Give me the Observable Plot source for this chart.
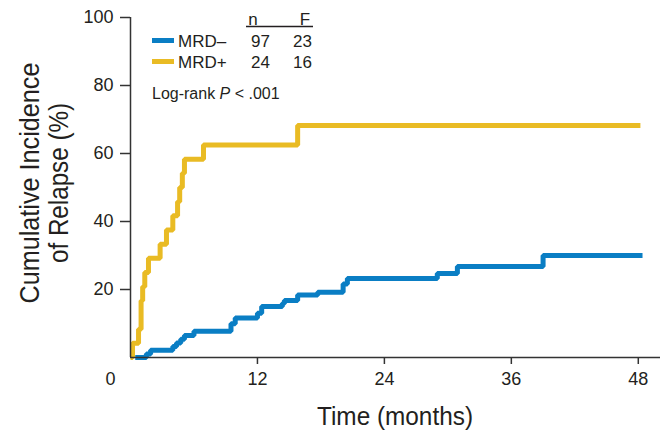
<!DOCTYPE html>
<html><head><meta charset="utf-8">
<script src="https://cdn.jsdelivr.net/npm/d3@7"></script>
<script src="https://cdn.jsdelivr.net/npm/@observablehq/plot@0.6"></script>
<style>
html,body{margin:0;padding:0;background:#fff;}
#chart{position:relative;width:663px;height:434px;overflow:hidden;}
</style></head><body><div id="chart"></div>
<script>
// ---- data ----
const groups = ["MRD–", "MRD+"];
const colors = ["#0a7ec4", "#e9bb24"];
const nCounts = [97, 24];
const fCounts = [23, 16];
const mrdNegTime = [0.45, 1.5, 1.9, 4.0, 4.35, 4.75, 5.1, 6.0, 9.5, 9.9, 12.0, 12.4, 14.35, 14.55, 15.8, 17.7, 20.1, 20.5, 29.0, 30.9, 39.0, 48.4];
const mrdNegCI   = [0,    1.0, 2.1, 3.2, 4.3,  5.4,  6.5, 7.7, 9.9, 11.6, 13.0, 15.0, 15.9, 16.8, 18.4, 19.2, 21.6, 23.2, 24.7, 26.8, 30.0, 30.0];
const mrdPosTime = [0, 0.19, 0.76, 1.0, 1.15, 1.35, 1.7, 2.8, 3.4, 4.0, 4.45, 4.65, 4.9, 5.1, 6.9, 15.8, 48.2];
const mrdPosCI   = [0, 4.2,  8.3,  16.7, 20.8, 25.0, 29.2, 33.3, 37.5, 41.7, 45.8, 50.0, 54.2, 58.3, 62.5, 68.2, 68.2];
const xTicks = [12, 24, 36, 48];
const xZeroTick = [0];
const yTicks = [20, 40, 60, 80, 100];
const xTitle = "Time (months)";
const yTitleLines = ["Cumulative Incidence", "of Relapse (%)"];
const legendHeaders = ["n", "F"];
const pText = ["Log-rank ", "P", " < .001"];

const rows = [
  ...mrdNegTime.map((t, i) => ({group: groups[0], t, v: mrdNegCI[i]})),
  ...mrdPosTime.map((t, i) => ({group: groups[1], t, v: mrdPosCI[i]}))
];

const ink = "#231f20";
const plot = Plot.plot({
  width: 663, height: 434,
  marginLeft: 130, marginRight: 3, marginTop: 17, marginBottom: 77,
  x: {domain: [0, 50.1]},
  y: {domain: [0, 100]},
  color: {domain: groups, range: colors},
  style: {fontFamily: "'Liberation Sans', Arial, sans-serif", fontSize: "18px", color: ink, background: "white"},
  marks: [
    Plot.line(rows, {x: "t", y: "v", stroke: "group", z: "group", strokeWidth: 5, curve: "step-after", strokeLinejoin: "miter", strokeLinecap: "butt"}),
    Plot.ruleX([0], {stroke: "#333", strokeWidth: 1.5}),
    Plot.ruleY([0], {stroke: "#333", strokeWidth: 1.5}),
    Plot.axisY(yTicks, {tickSize: 10, tickPadding: 7, label: null, stroke: "#333", strokeWidth: 1.5, fontSize: 18}),
    Plot.axisX(xTicks, {tickSize: 7, tickPadding: 8, label: null, stroke: "#333", strokeWidth: 1.5, fontSize: 18}),
    Plot.axisX(xZeroTick, {tickSize: 0, tickPadding: 15, dx: -20, label: null, fontSize: 18})
  ]
});
document.getElementById("chart").appendChild(plot);

const svg = d3.select(plot);
const reg = "'Liberation Sans', Arial, sans-serif";

// axis titles (condensed look via textLength)
svg.append("text").attr("x", 395).attr("y", 425).attr("text-anchor", "middle")
  .attr("font-family", reg).attr("font-size", 26).attr("fill", ink)
  .attr("textLength", 156).attr("lengthAdjust", "spacingAndGlyphs").text(xTitle);
const yLens = [241, 160];
[39, 68].forEach((bx, i) => {
  svg.append("text").attr("transform", `translate(${bx},183) rotate(-90)`).attr("text-anchor", "middle")
    .attr("font-family", reg).attr("font-size", 28).attr("fill", ink)
    .attr("textLength", yLens[i]).attr("lengthAdjust", "spacingAndGlyphs").text(yTitleLines[i]);
});

// legend
const lg = svg.append("g").attr("font-family", reg).attr("font-size", 17).attr("fill", ink).attr("text-anchor", "start");
lg.append("text").attr("x", 253).attr("y", 25).attr("text-anchor", "middle").text(legendHeaders[0]);
lg.append("text").attr("x", 305).attr("y", 25).attr("text-anchor", "middle").text(legendHeaders[1]);
lg.append("line").attr("x1", 246).attr("x2", 313).attr("y1", 26.5).attr("y2", 26.5).attr("stroke", ink).attr("stroke-width", 1.3);
const rowY = [47, 68];
groups.forEach((g, i) => {
  lg.append("line").attr("x1", 152).attr("x2", 174).attr("y1", rowY[i] - 6.5).attr("y2", rowY[i] - 6.5)
    .attr("stroke", colors[i]).attr("stroke-width", 5);
  lg.append("text").attr("x", 178).attr("y", rowY[i]).attr("text-anchor", "start").text(g);
  lg.append("text").attr("x", 270).attr("y", rowY[i]).attr("text-anchor", "end").text(nCounts[i]);
  lg.append("text").attr("x", 312).attr("y", rowY[i]).attr("text-anchor", "end").text(fCounts[i]);
});
const pt = lg.append("text").attr("x", 152).attr("y", 99).attr("font-size", 16).attr("text-anchor", "start");
pt.append("tspan").text(pText[0]);
pt.append("tspan").attr("font-style", "italic").text(pText[1]);
pt.append("tspan").text(pText[2]);
</script>
</body></html>
